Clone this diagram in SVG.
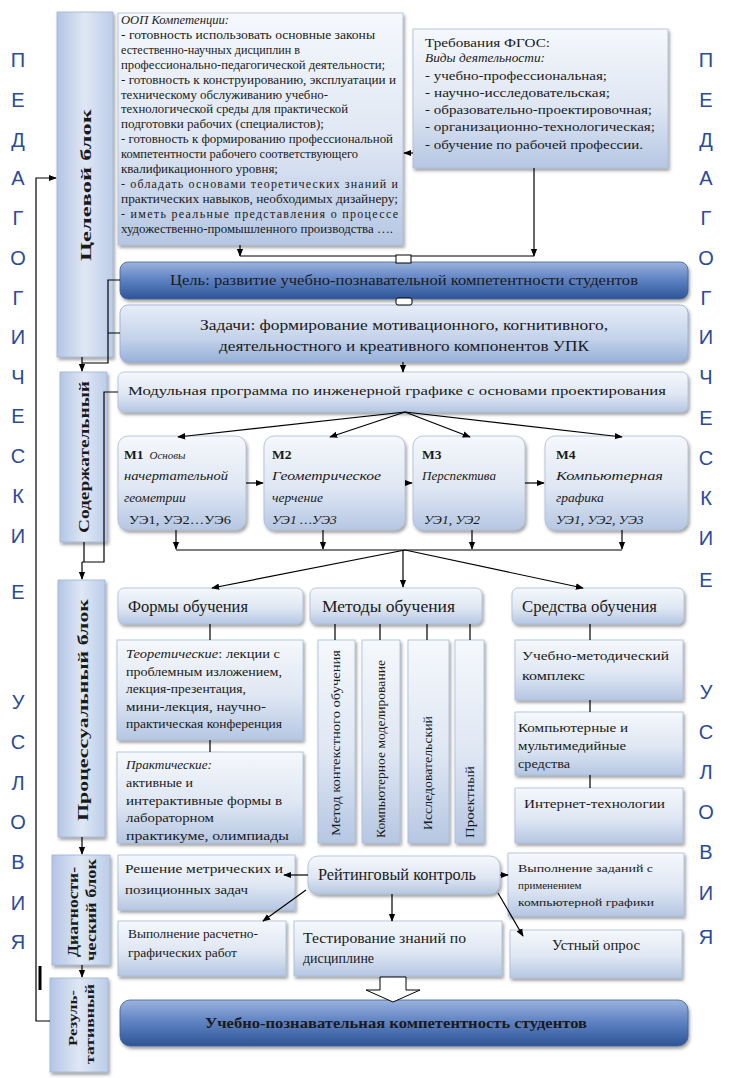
<svg xmlns="http://www.w3.org/2000/svg" width="738" height="1078" viewBox="0 0 738 1078">
<style>
text{font-family:"Liberation Serif","Times New Roman",serif;fill:#1a1a1a}
.side{font-family:"Liberation Sans",Arial,sans-serif;font-size:20px;fill:#2a4a9a;text-anchor:middle}
.box{fill:url(#gLight);stroke:#a9bbd9;stroke-width:0.8;filter:url(#sh)}
.mid{fill:url(#gMid);stroke:#93a9d0;stroke-width:0.8;filter:url(#sh)}
.dark{fill:url(#gDark);stroke:#3d5f9c;stroke-width:0.8;filter:url(#sh)}
.blk{fill:url(#gSide);stroke:#9fb3d6;stroke-width:0.8;filter:url(#sh)}
.ln{fill:none;stroke:#000;stroke-width:1.2}
.ar{fill:none;stroke:#000;stroke-width:1.2;marker-end:url(#ah)}
.vb{font-weight:bold;font-size:15px;text-anchor:middle}
.it{font-style:italic}
.b{font-weight:bold}
.mt{font-size:13.5px}
</style>
<defs>
<linearGradient id="gLight" x1="0" y1="0" x2="0" y2="1"><stop offset="0" stop-color="#f5f8fc"/><stop offset="0.55" stop-color="#dfe7f3"/><stop offset="1" stop-color="#b6c7e3"/></linearGradient>
<linearGradient id="gMid" x1="0" y1="0" x2="0" y2="1"><stop offset="0" stop-color="#e8eef8"/><stop offset="0.6" stop-color="#c3d2ea"/><stop offset="1" stop-color="#98b0da"/></linearGradient>
<linearGradient id="gDark" x1="0" y1="0" x2="0" y2="1"><stop offset="0" stop-color="#9bb3de"/><stop offset="0.45" stop-color="#6184c4"/><stop offset="1" stop-color="#2e5596"/></linearGradient>
<linearGradient id="gSide" x1="0" y1="0" x2="1" y2="0"><stop offset="0" stop-color="#b3c5e6"/><stop offset="0.5" stop-color="#dfe7f4"/><stop offset="1" stop-color="#bccde9"/></linearGradient>
<filter id="sh" x="-10%" y="-10%" width="125%" height="130%"><feDropShadow dx="1.5" dy="2.5" stdDeviation="1.5" flood-color="#333" flood-opacity="0.45"/></filter>
<marker id="ah" viewBox="0 0 10 10" refX="9" refY="5" markerUnits="userSpaceOnUse" markerWidth="8" markerHeight="8" orient="auto-start-reverse"><path d="M0,1 L10,5 L0,9 z" fill="#000"/></marker>
</defs>

<g id="side-left">
<text class="side" x="18" y="67">П</text><text class="side" x="18" y="107">Е</text><text class="side" x="18" y="147">Д</text><text class="side" x="18" y="185">А</text><text class="side" x="18" y="225">Г</text><text class="side" x="18" y="265">О</text><text class="side" x="18" y="305">Г</text><text class="side" x="18" y="344">И</text><text class="side" x="18" y="384">Ч</text><text class="side" x="18" y="423">Е</text><text class="side" x="18" y="463">С</text><text class="side" x="18" y="503">К</text><text class="side" x="18" y="543">И</text><text class="side" x="18" y="599">Е</text>
<text class="side" x="18" y="709">У</text><text class="side" x="18" y="749">С</text><text class="side" x="18" y="790">Л</text><text class="side" x="18" y="829">О</text><text class="side" x="18" y="869">В</text><text class="side" x="18" y="910">И</text><text class="side" x="18" y="949">Я</text>
</g>
<g id="side-right">
<text class="side" x="706" y="67">П</text><text class="side" x="706" y="107">Е</text><text class="side" x="706" y="147">Д</text><text class="side" x="706" y="185">А</text><text class="side" x="706" y="225">Г</text><text class="side" x="706" y="265">О</text><text class="side" x="706" y="305">Г</text><text class="side" x="706" y="344">И</text><text class="side" x="706" y="384">Ч</text><text class="side" x="706" y="425">Е</text><text class="side" x="706" y="465">С</text><text class="side" x="706" y="505">К</text><text class="side" x="706" y="545">И</text><text class="side" x="706" y="587">Е</text>
<text class="side" x="706" y="699">У</text><text class="side" x="706" y="739">С</text><text class="side" x="706" y="779">Л</text><text class="side" x="706" y="819">О</text><text class="side" x="706" y="859">В</text><text class="side" x="706" y="900">И</text><text class="side" x="706" y="944">Я</text>
</g>

<g id="block-celevoy"><rect class="blk" x="57" y="12" width="56" height="345"/><text class="vb" transform="translate(91,185) rotate(-90)" textLength="152" lengthAdjust="spacingAndGlyphs">Целевой блок</text></g>
<g id="block-soderzh"><rect class="blk" x="60" y="372" width="47" height="170"/><text class="vb" transform="translate(89,457) rotate(-90)" textLength="152" lengthAdjust="spacingAndGlyphs">Содержательный</text></g>
<g id="block-process"><rect class="blk" x="58" y="580" width="47" height="257"/><text class="vb" transform="translate(88,710) rotate(-90)" textLength="222" lengthAdjust="spacingAndGlyphs">Процессуальный блок</text></g>
<g id="block-diag"><rect class="blk" x="52" y="855" width="58" height="110"/><text class="vb" style="font-size:14px" transform="translate(78,912) rotate(-90)" textLength="90" lengthAdjust="spacingAndGlyphs">Диагности-</text><text class="vb" style="font-size:14px" transform="translate(96,910) rotate(-90)" textLength="102" lengthAdjust="spacingAndGlyphs">ческий блок</text></g>
<g id="block-result"><rect class="blk" x="50" y="978" width="58" height="94"/><text class="vb" style="font-size:13px" transform="translate(77,1018) rotate(-90)" textLength="56" lengthAdjust="spacingAndGlyphs">Резуль-</text><text class="vb" style="font-size:13px" transform="translate(94,1024) rotate(-90)" textLength="80" lengthAdjust="spacingAndGlyphs">тативный</text></g>

<g id="oop">
<rect class="box" x="118" y="13" width="285" height="232"/>
<g font-size="12">
<text x="121" y="24" class="it" textLength="108" lengthAdjust="spacingAndGlyphs">ООП Компетенции:</text>
<text x="121" y="38.9" textLength="254" lengthAdjust="spacingAndGlyphs">- готовность использовать основные законы</text>
<text x="121" y="53.8" textLength="179" lengthAdjust="spacingAndGlyphs">естественно-научных дисциплин в</text>
<text x="121" y="68.7" textLength="264" lengthAdjust="spacingAndGlyphs">профессионально-педагогической деятельности;</text>
<text x="121" y="83.6" textLength="275" lengthAdjust="spacingAndGlyphs">- готовность к конструированию, эксплуатации и</text>
<text x="121" y="98.5" textLength="207" lengthAdjust="spacingAndGlyphs">техническому обслуживанию учебно-</text>
<text x="121" y="113.4" textLength="227" lengthAdjust="spacingAndGlyphs">технологической среды для практической</text>
<text x="121" y="128.3" textLength="203" lengthAdjust="spacingAndGlyphs">подготовки рабочих (специалистов);</text>
<text x="121" y="143.2" textLength="272" lengthAdjust="spacingAndGlyphs">- готовность к формированию профессиональной</text>
<text x="121" y="158.1" textLength="237" lengthAdjust="spacingAndGlyphs">компетентности рабочего соответствующего</text>
<text x="121" y="173" textLength="157" lengthAdjust="spacingAndGlyphs">квалификационного уровня;</text>
<text x="121" y="187.9" textLength="277" lengthAdjust="spacing">- обладать основами теоретических знаний и</text>
<text x="121" y="202.8" textLength="277" lengthAdjust="spacingAndGlyphs">практических навыков, необходимых дизайнеру;</text>
<text x="121" y="217.7" textLength="277" lengthAdjust="spacing">- иметь реальные представления о процессе</text>
<text x="121" y="232.6" textLength="272" lengthAdjust="spacingAndGlyphs">художественно-промышленного производства ….</text>
</g>
</g>

<g id="fgos">
<rect class="box" x="413" y="29" width="255" height="139"/>
<g font-size="12.5">
<text x="425" y="47" textLength="125" lengthAdjust="spacingAndGlyphs">Требования ФГОС:</text>
<text x="425" y="62" class="it" textLength="120" lengthAdjust="spacingAndGlyphs">Виды деятельности:</text>
<text x="425" y="80" textLength="182" lengthAdjust="spacingAndGlyphs">- учебно-профессиональная;</text>
<text x="425" y="97" textLength="185" lengthAdjust="spacingAndGlyphs">- научно-исследовательская;</text>
<text x="425" y="114" textLength="227" lengthAdjust="spacingAndGlyphs">- образовательно-проектировочная;</text>
<text x="425" y="131" textLength="230" lengthAdjust="spacingAndGlyphs">- организационно-технологическая;</text>
<text x="425" y="149" textLength="218" lengthAdjust="spacingAndGlyphs">- обучение по рабочей профессии.</text>
</g>
</g>

<g id="goal"><rect class="dark" x="120" y="262" width="568" height="37" rx="8"/><text x="404" y="285" font-size="14" text-anchor="middle" textLength="468" lengthAdjust="spacingAndGlyphs">Цель: развитие учебно-познавательной компетентности студентов</text></g>
<g id="tasks"><rect class="mid" x="120" y="305" width="568" height="57" rx="8"/><text x="404" y="330" font-size="14.5" text-anchor="middle" textLength="408" lengthAdjust="spacingAndGlyphs">Задачи: формирование мотивационного, когнитивного,</text><text x="404" y="351" font-size="14.5" text-anchor="middle" textLength="370" lengthAdjust="spacingAndGlyphs">деятельностного и креативного компонентов УПК</text></g>
<g id="modprog"><rect class="box" x="118" y="372" width="570" height="40" rx="6"/><text x="128" y="395" font-size="13.5" textLength="538" lengthAdjust="spacingAndGlyphs">Модульная программа по  инженерной графике  с основами проектирования</text></g>

<g id="m1"><rect class="box" x="118" y="436" width="128" height="94" rx="10"/>
<text x="124" y="459" font-size="13.5"><tspan class="b">М1</tspan><tspan class="it" font-size="11" dx="6">Основы</tspan></text>
<text x="124" y="480" class="it mt" textLength="104" lengthAdjust="spacingAndGlyphs">начертательной</text>
<text x="124" y="502" class="it mt">геометрии</text>
<text x="129" y="524" class="mt" textLength="102" lengthAdjust="spacingAndGlyphs">УЭ1, УЭ2…УЭ6</text></g>
<g id="m2"><rect class="box" x="264" y="436" width="141" height="94" rx="10"/>
<text x="272" y="459" class="b mt">М2</text>
<text x="272" y="480" class="it mt" textLength="109" lengthAdjust="spacingAndGlyphs">Геометрическое</text>
<text x="272" y="502" class="it mt">черчение</text>
<text x="272" y="524" class="it mt">УЭ1 …УЭ3</text></g>
<g id="m3"><rect class="box" x="413" y="436" width="112" height="94" rx="10"/>
<text x="422" y="459" class="b mt">М3</text>
<text x="422" y="480" class="it mt" textLength="74" lengthAdjust="spacingAndGlyphs">Перспектива</text>
<text x="424" y="524" class="it mt">УЭ1, УЭ2</text></g>
<g id="m4"><rect class="box" x="545" y="436" width="143" height="94" rx="10"/>
<text x="556" y="459" class="b mt">М4</text>
<text x="556" y="480" class="it mt" textLength="107" lengthAdjust="spacingAndGlyphs">Компьютерная</text>
<text x="556" y="502" class="it mt">графика</text>
<text x="556" y="524" class="it mt">УЭ1, УЭ2, УЭ3</text></g>

<g id="forms"><rect class="box" x="118" y="588" width="185" height="36" rx="6"/><text x="128" y="612" font-size="16" textLength="120" lengthAdjust="spacingAndGlyphs">Формы обучения</text></g>
<g id="methods"><rect class="box" x="310" y="588" width="172" height="36" rx="6"/><text x="322" y="612" font-size="16" textLength="133" lengthAdjust="spacingAndGlyphs">Методы обучения</text></g>
<g id="means"><rect class="box" x="512" y="588" width="172" height="36" rx="6"/><text x="522" y="612" font-size="16" textLength="135" lengthAdjust="spacingAndGlyphs">Средства обучения</text></g>

<g id="theory"><rect class="box" x="117" y="640" width="186" height="100"/>
<g font-size="12.5"><text x="126" y="658" textLength="154" lengthAdjust="spacingAndGlyphs"><tspan class="it">Теоретические</tspan>: лекции с</text>
<text x="126" y="676" textLength="156" lengthAdjust="spacingAndGlyphs">проблемным изложением,</text>
<text x="126" y="693" textLength="120" lengthAdjust="spacingAndGlyphs">лекция-презентация,</text>
<text x="126" y="711" textLength="140" lengthAdjust="spacingAndGlyphs">мини-лекция, научно-</text>
<text x="126" y="728" textLength="156" lengthAdjust="spacingAndGlyphs">практическая конференция</text></g></g>
<g id="practice"><rect class="box" x="117" y="752" width="186" height="91"/>
<g font-size="13"><text x="126" y="769" class="it" textLength="86" lengthAdjust="spacingAndGlyphs">Практические:</text>
<text x="126" y="787" textLength="67" lengthAdjust="spacingAndGlyphs">активные и</text>
<text x="126" y="805" textLength="156" lengthAdjust="spacingAndGlyphs">интерактивные формы в</text>
<text x="126" y="822" textLength="88" lengthAdjust="spacingAndGlyphs">лабораторном</text>
<text x="126" y="840" textLength="163" lengthAdjust="spacingAndGlyphs">практикуме, олимпиады</text></g></g>

<g id="meth1"><rect class="box" x="318" y="640" width="37" height="203"/><text font-size="13" transform="translate(340,836) rotate(-90)" textLength="186" lengthAdjust="spacingAndGlyphs">Метод контекстного обучения</text></g>
<g id="meth2"><rect class="box" x="362" y="640" width="38" height="203"/><text font-size="12" transform="translate(385,838) rotate(-90)" textLength="178" lengthAdjust="spacingAndGlyphs">Компьютерное  моделирование</text></g>
<g id="meth3"><rect class="box" x="408" y="640" width="41" height="203"/><text font-size="13" transform="translate(432,830) rotate(-90)" textLength="114" lengthAdjust="spacingAndGlyphs">Исследовательский</text></g>
<g id="meth4"><rect class="box" x="455" y="640" width="29" height="203"/><text font-size="13" transform="translate(474,838) rotate(-90)" textLength="72" lengthAdjust="spacingAndGlyphs">Проектный</text></g>

<g id="mean1"><rect class="box" x="515" y="640" width="168" height="60"/><text x="522" y="660" font-size="13" textLength="147" lengthAdjust="spacingAndGlyphs">Учебно-методический</text><text x="522" y="680" font-size="13" textLength="63" lengthAdjust="spacingAndGlyphs">комплекс</text></g>
<g id="mean2"><rect class="box" x="515" y="712" width="168" height="63"/><text x="518" y="732" font-size="13" textLength="110" lengthAdjust="spacingAndGlyphs">Компьютерные и</text><text x="518" y="750" font-size="13" textLength="108" lengthAdjust="spacingAndGlyphs">мультимедийные</text><text x="518" y="768" font-size="13" textLength="52" lengthAdjust="spacingAndGlyphs">средства</text></g>
<g id="mean3"><rect class="box" x="515" y="788" width="168" height="55"/><text x="524" y="808" font-size="13" textLength="141" lengthAdjust="spacingAndGlyphs">Интернет-технологии</text></g>

<g id="d-metric"><rect class="box" x="118" y="855" width="177" height="55"/><text x="125" y="873" font-size="12" textLength="158" lengthAdjust="spacingAndGlyphs">Решение метрических и</text><text x="125" y="894" font-size="12" textLength="123" lengthAdjust="spacingAndGlyphs">позиционных задач</text></g>
<g id="d-rating"><rect class="box" x="308" y="856" width="192" height="38" rx="10"/><text x="318" y="880" font-size="16" textLength="158" lengthAdjust="spacingAndGlyphs">Рейтинговый контроль</text></g>
<g id="d-comp"><rect class="box" x="508" y="853" width="176" height="63"/><text x="518" y="872" font-size="11" textLength="135" lengthAdjust="spacingAndGlyphs">Выполнение заданий  с</text><text x="518" y="889" font-size="11">применением</text><text x="518" y="906" font-size="11" textLength="136" lengthAdjust="spacingAndGlyphs">компьютерной графики</text></g>
<g id="d-calc"><rect class="box" x="118" y="921" width="168" height="55"/><text x="128" y="938" font-size="12" textLength="130" lengthAdjust="spacingAndGlyphs">Выполнение расчетно-</text><text x="128" y="957" font-size="12" textLength="109" lengthAdjust="spacingAndGlyphs">графических работ</text></g>
<g id="d-test"><rect class="box" x="294" y="921" width="208" height="55"/><text x="303" y="943" font-size="14" textLength="163" lengthAdjust="spacingAndGlyphs">Тестирование знаний по</text><text x="303" y="963" font-size="14" textLength="71" lengthAdjust="spacingAndGlyphs">дисциплине</text></g>
<g id="d-oral"><rect class="box" x="510" y="930" width="172" height="48"/><text x="596" y="950" font-size="14" text-anchor="middle" textLength="88" lengthAdjust="spacingAndGlyphs">Устный опрос</text></g>

<g id="result"><rect class="dark" x="120" y="1000" width="568" height="46" rx="10"/><text x="396" y="1028" font-size="15" font-weight="bold" text-anchor="middle" textLength="382" lengthAdjust="spacingAndGlyphs">Учебно-познавательная компетентность студентов</text></g>

<g id="connectors">
<path class="ar" d="M413,153 H404"/>
<path class="ar" d="M240,245 V256"/>
<path class="ar" d="M534,168 V256"/>
<path class="ln" d="M240,256 H534"/>
<rect x="396" y="255" width="15" height="8" fill="#fff" stroke="#000" stroke-width="1"/>
<rect x="396" y="298" width="16" height="7" rx="2" fill="#fff" stroke="#000" stroke-width="1"/>
<path class="ar" d="M403,362 V372"/>
<path class="ar" d="M405,412 L178,437"/>
<path class="ar" d="M405,412 L330,437"/>
<path class="ar" d="M405,412 L470,437"/>
<path class="ar" d="M405,412 L622,437"/>
<path class="ar" d="M246,483 H263"/>
<path class="ar" d="M405,483 H412"/>
<path class="ar" d="M525,483 H544"/>
<path class="ar" d="M176,530 V549"/>
<path class="ar" d="M323,530 V549"/>
<path class="ar" d="M472,530 V549"/>
<path class="ar" d="M622,530 V549"/>
<path class="ln" d="M176,550 H622"/>
<path class="ar" d="M405,550 L212,588"/>
<path class="ar" d="M403,550 V587"/>
<path class="ar" d="M405,550 L583,588"/>
<path class="ln" d="M210,624 V640 M210,740 V752"/>
<path class="ln" d="M335,624 V640 M380,624 V640 M427,624 V640 M470,624 V640"/>
<path class="ln" d="M590,624 V640 M590,700 V712 M590,775 V788"/>
<path class="ar" d="M308,875 H284"/>
<path class="ar" d="M500,875 H508"/>
<path class="ar" d="M306,890 L263,921"/>
<path class="ar" d="M392,894 V921"/>
<path class="ar" d="M498,893 L523,936"/>
<path d="M380,977 H406 V990 H420 L393,1002 L366,990 H380 Z" fill="#fff" stroke="#000" stroke-width="1"/>
<path class="ar" d="M50,1021 H36 V178 H56"/>
<path d="M40,966 V990" stroke="#000" stroke-width="3"/>
<path class="ln" d="M120,280 H108 V363 H82 M120,333 H108"/>
<path class="ar" d="M82,357 V371"/>
<path class="ln" d="M118,392 H104 V562 H82 M84,542 V562"/>
<path class="ar" d="M82,562 V579"/>
<path class="ar" d="M82,837 V854"/>
<path class="ar" d="M82,965 V977"/>
</g>
</svg>
